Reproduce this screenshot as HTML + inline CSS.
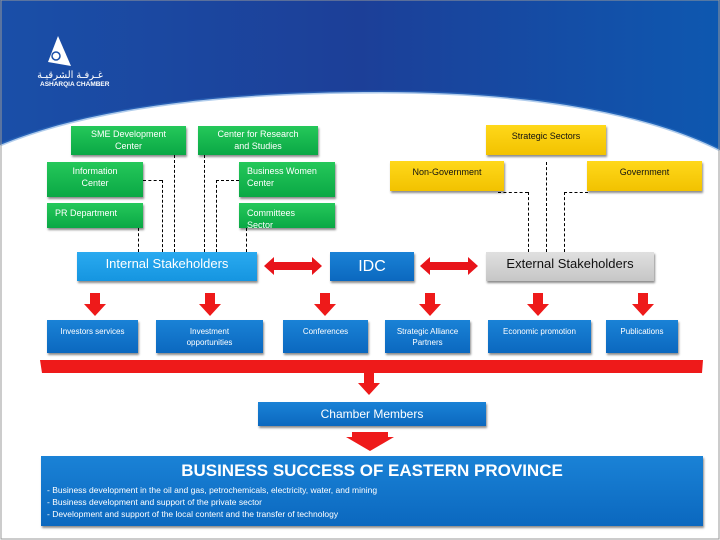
<!DOCTYPE html>
<html><head><meta charset="utf-8"><style>
body{margin:0;width:720px;height:540px;overflow:hidden;background:#fff;font-family:"Liberation Sans",sans-serif;}
.b{position:absolute;box-sizing:border-box;color:#fff;font-size:9px;text-align:center;line-height:12px;box-shadow:1px 2px 2px rgba(0,0,0,.45);}
.g{background:linear-gradient(#25c85a,#0aa845);}
.y{background:linear-gradient(#ffd81a,#f2c200);color:#111;}
.bl{background:linear-gradient(#1a82d6,#0b68bf);}
.d{position:absolute;border-left:1px dashed #000;width:0;}
.h{position:absolute;border-top:1px dashed #000;height:0;}
</style></head><body>
<svg width="720" height="540" style="position:absolute;left:0;top:0">
<defs><linearGradient id="hg" x1="0" y1="0" x2="1" y2="0"><stop offset="0" stop-color="#1a4fa8"/><stop offset=".5" stop-color="#1c3f98"/><stop offset="1" stop-color="#0e58b0"/></linearGradient></defs>
<path d="M0 0H720V150C640 110 520 92 380 92C200 92 80 112 0 145Z" fill="url(#hg)"/>
<path d="M0 145C80 112 200 92 380 92C520 92 640 110 720 150" fill="none" stroke="#3a7fd0" stroke-width="3" opacity=".4"/>
<rect x="1" y="0" width="718" height="539" fill="none" stroke="#999"/>
<path d="M58 36L48 62L71 66Z" fill="#fff"/>
<circle cx="56" cy="56" r="4" fill="none" stroke="#1a4fa8" stroke-width="1.5"/>
<text x="103" y="78" font-size="10" fill="#fff" text-anchor="end" font-family="Liberation Sans,sans-serif">غـرفـة الشرقيـة</text>
<text x="40" y="86" font-size="6.5" fill="#fff" font-weight="bold" font-family="Liberation Sans,sans-serif">ASHARQIA CHAMBER</text>
<g fill="#e8141a"><path d="M264 266l10-9v5h38v-5l10 9-10 9v-5h-38v5z"/><path d="M420 266l10-9v5h38v-5l10 9-10 9v-5h-38v5z"/></g>
<g fill="#ee1a1a">
<path d="M90 293h10v11h6l-11 12-11-12h6z"/>
<path d="M205 293h10v11h6l-11 12-11-12h6z"/>
<path d="M320 293h10v11h6l-11 12-11-12h6z"/>
<path d="M425 293h10v11h6l-11 12-11-12h6z"/>
<path d="M533 293h10v11h6l-11 12-11-12h6z"/>
<path d="M638 293h10v11h6l-11 12-11-12h6z"/>
<path d="M364 373h10v10h6l-11 12-11-12h6z"/>
<path d="M352 432h36v5h6l-24 14-24-14h6z"/>
<path d="M40 360h663l-1 13H42z"/>
</g>
</svg>
<div class="b g" style="left:71px;top:126px;width:115px;height:29px;padding-top:2px">SME Development<br>Center</div>
<div class="b g" style="left:198px;top:126px;width:120px;height:29px;padding-top:2px">Center for Research<br>and Studies</div>
<div class="b g" style="left:47px;top:162px;width:96px;height:35px;padding-top:3px">Information<br>Center</div>
<div class="b g" style="left:239px;top:162px;width:96px;height:35px;padding:3px 0 0 8px;text-align:left">Business Women<br>Center</div>
<div class="b g" style="left:47px;top:203px;width:96px;height:25px;padding:4px 0 0 8px;text-align:left">PR Department</div>
<div class="b g" style="left:239px;top:203px;width:96px;height:25px;padding:4px 0 0 8px;text-align:left">Committees<br>Sector</div>
<div class="b y" style="left:486px;top:125px;width:120px;height:30px;padding-top:5px">Strategic Sectors</div>
<div class="b y" style="left:390px;top:161px;width:114px;height:30px;padding-top:5px">Non-Government</div>
<div class="b y" style="left:587px;top:161px;width:115px;height:30px;padding-top:5px">Government</div>
<div class="d" style="left:174px;top:155px;height:97px"></div>
<div class="d" style="left:204px;top:155px;height:97px"></div>
<div class="h" style="left:143px;top:180px;width:19px"></div>
<div class="d" style="left:162px;top:180px;height:72px"></div>
<div class="h" style="left:216px;top:180px;width:23px"></div>
<div class="d" style="left:216px;top:180px;height:72px"></div>
<div class="d" style="left:138px;top:228px;height:24px"></div>
<div class="d" style="left:246px;top:228px;height:24px"></div>
<div class="d" style="left:546px;top:162px;height:90px"></div>
<div class="h" style="left:498px;top:192px;width:30px"></div>
<div class="d" style="left:528px;top:192px;height:60px"></div>
<div class="h" style="left:564px;top:192px;width:24px"></div>
<div class="d" style="left:564px;top:192px;height:60px"></div>
<div class="b" style="left:77px;top:252px;width:180px;height:29px;background:linear-gradient(#2aaaf0,#1595e0);font-size:13px;line-height:24px">Internal Stakeholders</div>
<div class="b bl" style="left:330px;top:252px;width:84px;height:29px;font-size:16px;line-height:30px">IDC</div>
<div class="b" style="left:486px;top:252px;width:168px;height:29px;background:linear-gradient(#e0e0e0,#c6c6c6);color:#111;font-size:13px;line-height:24px">External Stakeholders</div>
<div class="b bl" style="left:47px;top:320px;width:91px;height:33px;font-size:8px;padding-top:6px">Investors services</div>
<div class="b bl" style="left:156px;top:320px;width:107px;height:33px;font-size:8px;padding-top:6px;line-height:11px">Investment<br>opportunities</div>
<div class="b bl" style="left:283px;top:320px;width:85px;height:33px;font-size:8px;padding-top:6px">Conferences</div>
<div class="b bl" style="left:385px;top:320px;width:85px;height:33px;font-size:8px;padding-top:6px;line-height:11px">Strategic Alliance<br>Partners</div>
<div class="b bl" style="left:488px;top:320px;width:103px;height:33px;font-size:8px;padding-top:6px">Economic promotion</div>
<div class="b bl" style="left:606px;top:320px;width:72px;height:33px;font-size:8px;padding-top:6px">Publications</div>
<div class="b bl" style="left:258px;top:402px;width:228px;height:24px;font-size:12px;line-height:24px">Chamber Members</div>
<div class="b bl" style="left:41px;top:456px;width:662px;height:70px;text-align:left">
<div style="text-align:center;font-size:17px;font-weight:bold;line-height:20px;margin-top:5px">BUSINESS SUCCESS OF EASTERN PROVINCE</div>
<div style="font-size:8.5px;line-height:12px;padding-left:6px;margin-top:3px">- Business development in the oil and gas, petrochemicals, electricity, water, and mining<br>- Business development and support of the private sector<br>- Development and support of the local content and the transfer of technology</div>
</div>
</body></html>
